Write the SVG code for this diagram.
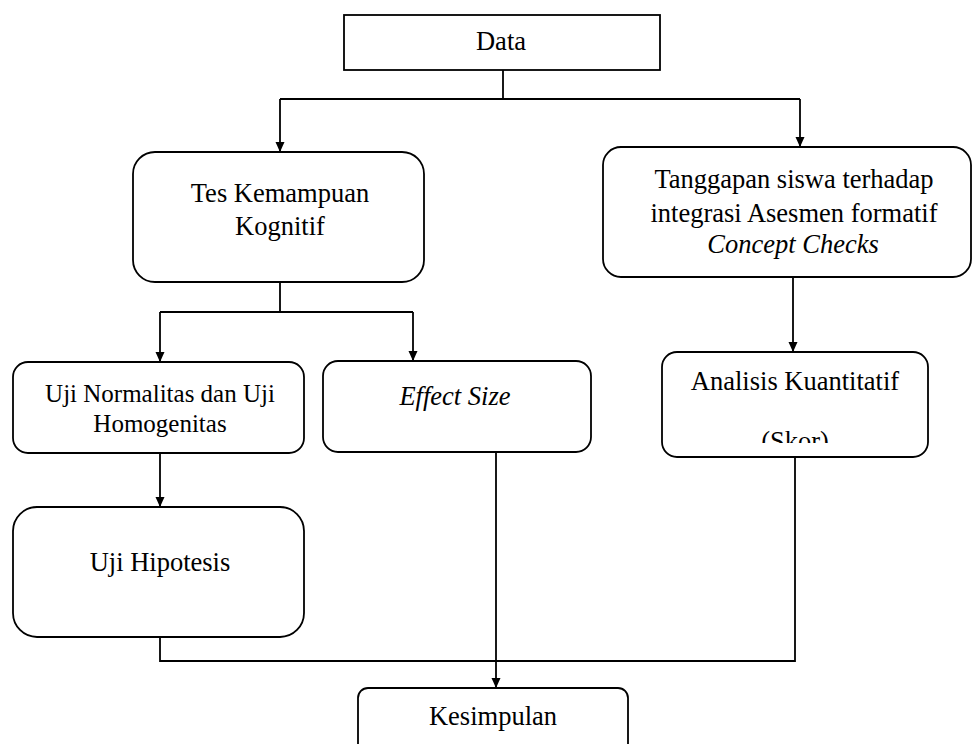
<svg xmlns="http://www.w3.org/2000/svg" width="972" height="744" viewBox="0 0 972 744">
<style>
.box{fill:#fff;stroke:#000;stroke-width:1.8}
.ln{fill:none;stroke:#000;stroke-width:1.8}
.t{font-family:"Liberation Serif","Times New Roman",serif;font-size:26.5px;fill:#000;text-anchor:middle}
.s{font-size:25px}
.i{font-style:italic}
</style>
<defs>
<marker id="ah" markerWidth="10" markerHeight="10" refX="9" refY="5" orient="auto" markerUnits="userSpaceOnUse">
<path d="M0,0.5 L10,5 L0,9.5 Z" fill="#000"/>
</marker>
<clipPath id="clipA"><rect x="640" y="340" width="320" height="103"/></clipPath>
</defs>
<rect width="972" height="744" fill="#fff"/>
<g id="connectors">
<path class="ln" d="M503,70 V99"/>
<path class="ln" d="M280,99 H800"/>
<path class="ln" d="M280,99 V151" marker-end="url(#ah)"/>
<path class="ln" d="M800,99 V146" marker-end="url(#ah)"/>
<path class="ln" d="M280,282 V312 H413"/>
<path class="ln" d="M280,312 H160"/>
<path class="ln" d="M160,312 V361" marker-end="url(#ah)"/>
<path class="ln" d="M413,312 V360" marker-end="url(#ah)"/>
<path class="ln" d="M793,277 V351" marker-end="url(#ah)"/>
<path class="ln" d="M160,453 V506" marker-end="url(#ah)"/>
<path class="ln" d="M160,637 V661 H795 V457"/>
<path class="ln" d="M496,452 V687" marker-end="url(#ah)"/>
</g>
<g id="data">
<rect class="box" x="344" y="15" width="316" height="55"/>
<text class="t" x="501" y="50">Data</text>
</g>
<g id="tes">
<rect class="box" x="133" y="152" width="291" height="130" rx="22"/>
<text class="t" x="280" y="202">Tes Kemampuan</text>
<text class="t" x="280" y="235">Kognitif</text>
</g>
<g id="tanggapan">
<rect class="box" x="603" y="147" width="368" height="130" rx="18"/>
<text class="t" x="794" y="188">Tanggapan siswa terhadap</text>
<text class="t" x="794" y="222">integrasi Asesmen formatif</text>
<text class="t i" x="793" y="253">Concept Checks</text>
</g>
<g id="uji-normalitas">
<rect class="box" x="13" y="362" width="291" height="91" rx="15"/>
<text class="t s" x="160" y="402">Uji Normalitas dan Uji</text>
<text class="t s" x="160" y="432">Homogenitas</text>
</g>
<g id="effect-size">
<rect class="box" x="323" y="361" width="268" height="91" rx="15"/>
<text class="t i" x="455" y="405">Effect Size</text>
</g>
<g id="analisis">
<rect class="box" x="662" y="352" width="266" height="105" rx="15"/>
<text class="t" x="795" y="390">Analisis Kuantitatif</text>
<text class="t" x="795" y="450" clip-path="url(#clipA)">(Skor)</text>
</g>
<g id="uji-hipotesis">
<rect class="box" x="13" y="507" width="291" height="130" rx="24"/>
<text class="t" x="160" y="571">Uji Hipotesis</text>
</g>
<g id="kesimpulan">
<rect class="box" x="358" y="688" width="270" height="80" rx="10"/>
<text class="t" x="493" y="725">Kesimpulan</text>
</g>
</svg>
